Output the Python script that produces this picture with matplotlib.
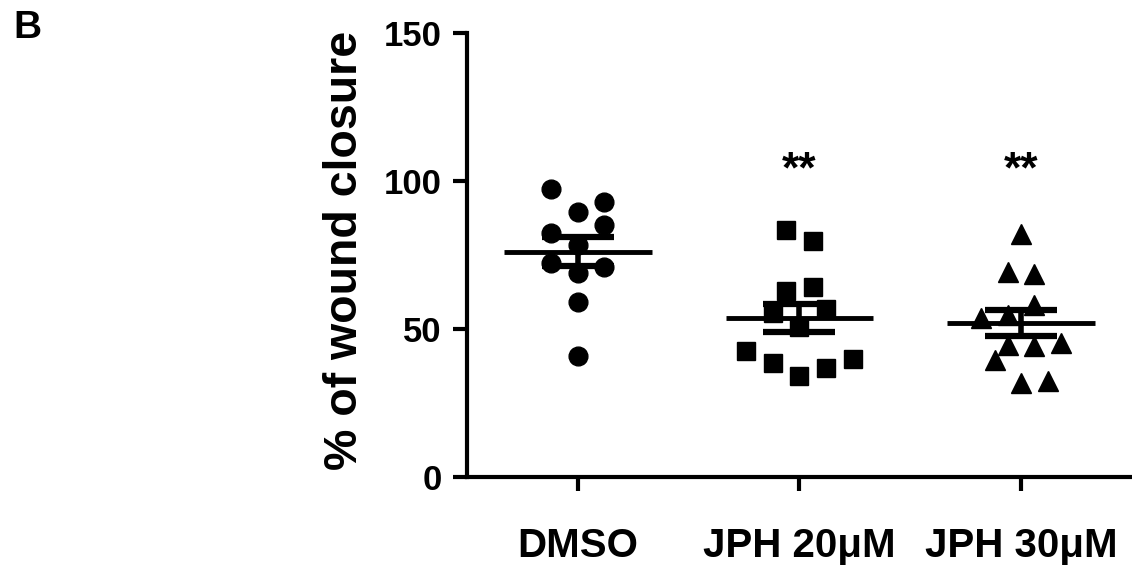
import numpy as np
import matplotlib
matplotlib.use('Agg')
import matplotlib.pyplot as plt

plt.rcParams['font.family'] = ['Liberation Sans', 'DejaVu Sans']
plt.rcParams['font.weight'] = 'bold'

# ------------------------------------------------------------------ #
#  Data                                     #
# ------------------------------------------------------------------ #
groups = ['DMSO', 'JPH 20μM', 'JPH 30μM']
markers = ['o', 's', '^']

dmso_vals = [97.2, 89.6, 92.9, 85.0, 82.5, 78.3, 72.4, 70.8, 68.8, 59.2, 41.0]
dmso_slot = [-1, 0, 1, 1, -1, 0, -1, 1, 0, 0, 0]

jph20_vals = [83.4, 79.8, 62.9, 64.3, 56.7, 55.5, 50.8, 42.6, 38.6, 34.1, 36.7, 39.9]
jph20_slot = [-0.5, 0.5, -0.5, 0.5, 1, -1, 0, -2, -1, 0, 1, 2]

jph30_vals = [82.0, 69.3, 68.6, 58.1, 54.7, 53.6, 44.6, 44.3, 45.4, 39.5, 31.7, 32.5]
jph30_slot = [0, -0.5, 0.5, 0.5, -0.5, -1.5, -0.5, 0.5, 1.5, -1, 0, 1]

signif = ['', '**', '**']

all_vals = [dmso_vals, jph20_vals, jph30_vals]
all_slots = [dmso_slot, jph20_slot, jph30_slot]

# ------------------------------------------------------------------ #
#  Plot                                                               #
# ------------------------------------------------------------------ #
fig = plt.figure(figsize=(11.32, 5.66), dpi=100)
ax = fig.add_axes([0.4125, 0.157, 0.5875, 0.785])

step = 0.12
for i, (vals, slots) in enumerate(zip(all_vals, all_slots)):
    vals = np.array(vals)
    xs = i + step * np.array(slots)
    ax.plot(xs, vals, linestyle='none', marker=markers[i], color='black',
            markersize=13.5 if markers[i] != '^' else 14, zorder=3)
    mean = vals.mean()
    sem = vals.std(ddof=1) / np.sqrt(len(vals))
    ax.hlines(mean, i - 0.333, i + 0.333, color='black', linewidth=3.5, zorder=4)
    ax.errorbar(i, mean, yerr=sem, fmt='none', ecolor='black', elinewidth=4,
                capsize=26, capthick=4.5, zorder=4)
    if signif[i]:
        ax.text(i, 99.5, signif[i], ha='center', va='baseline',
                fontsize=32, fontweight='bold')

ax.set_xlim(-0.5, 2.5)
ax.set_ylim(0, 150)
ax.set_yticks([0, 50, 100, 150])
ax.set_xticks(range(len(groups)))
ax.set_xticklabels(groups, fontsize=29, fontweight='bold')
ax.tick_params(axis='y', labelsize=25, width=3, length=10, pad=8)
ax.tick_params(axis='x', width=3, length=10, pad=26)
for lab in ax.get_yticklabels():
    lab.set_fontweight('bold')

for side in ['top', 'right']:
    ax.spines[side].set_visible(False)
for side in ['left', 'bottom']:
    ax.spines[side].set_linewidth(3)

fig.text(345 / 1132, 1 - 250 / 566, '% of wound closure', rotation=90,
         ha='center', va='center', fontsize=33.5, fontweight='bold')
fig.text(13 / 1132, 1 - 10 / 566, 'B', ha='left', va='top',
         fontsize=28, fontweight='bold')

fig.savefig('out.png', dpi=100)
plt.close(fig)
